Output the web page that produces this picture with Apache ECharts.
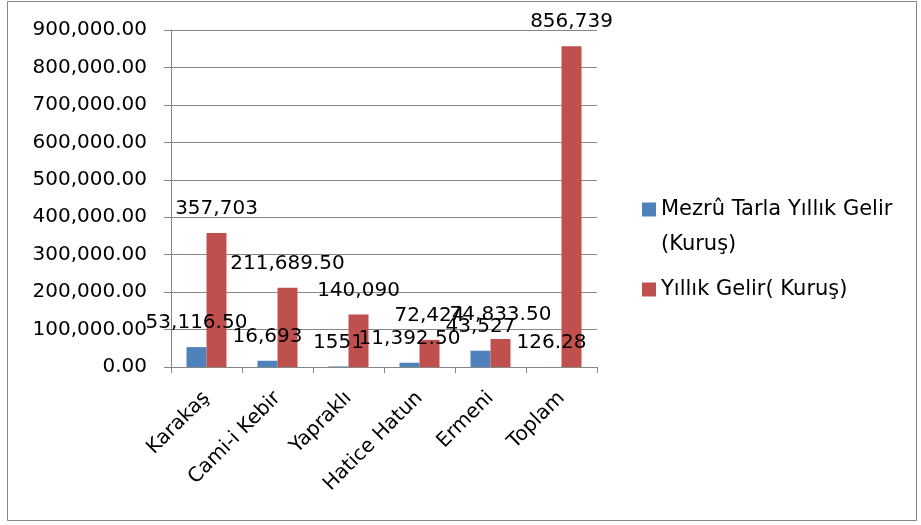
<!DOCTYPE html>
<html>
<head>
<meta charset="utf-8">
<script src="https://cdn.jsdelivr.net/npm/echarts@6/dist/echarts.min.js"></script>
<style>
  html, body { margin: 0; padding: 0; background: #fff; }
  #chart { width: 921px; height: 525px; }
</style>
</head>
<body>
<div id="chart"></div>
<script>
const categories = ['Karakaş', 'Cami-i Kebir', 'Yapraklı', 'Hatice Hatun', 'Ermeni', 'Toplam'];
const mezruValues = [53116.5, 16693, 1551, 11392.5, 43527, 126.28];
const mezruLabels = ['53,116.50', '16,693', '1551', '11,392.50', '43,527', '126.28'];
const gelirValues = [357703, 211689.5, 140090, 72424, 74833.5, 856739];
const gelirLabels = ['357,703', '211,689.50', '140,090', '72,424', '74,833.50', '856,739'];
const yTicks = [0, 100000, 200000, 300000, 400000, 500000, 600000, 700000, 800000, 900000];

const seriesNames = ['Mezrû Tarla Yıllık Gelir (Kuruş)', 'Yıllık Gelir( Kuruş)'];
const font = 'DejaVu Sans';

const chart = echarts.init(document.getElementById('chart'));

const labelStyle = {
  show: true,
  position: 'top',
  distance: 14,
  color: '#000',
  fontFamily: font,
  fontSize: 20
};

// legend text: blank first line so the icon sits on the first real line
const legendText = { fontFamily: font, fontSize: 21, color: '#000', lineHeight: 35 };

chart.setOption({
  animation: false,
  textStyle: { fontFamily: font },
  grid: { left: 171, top: 30, width: 426, height: 337, containLabel: false },
  legend: [
    {
      data: [seriesNames[0]],
      left: 637,
      top: 152,
      itemWidth: 14,
      itemHeight: 14,
      icon: 'rect',
      formatter: n => '\n' + n.replace(' (', '\n('),
      textStyle: legendText
    },
    {
      data: [seriesNames[1]],
      left: 637,
      top: 267,
      itemWidth: 14,
      itemHeight: 14,
      icon: 'rect',
      textStyle: legendText
    }
  ],
  xAxis: {
    type: 'category',
    data: categories,
    axisLine: { lineStyle: { color: '#868686' } },
    axisTick: { show: true, length: 6, lineStyle: { color: '#868686' } },
    axisLabel: { rotate: 45, margin: 28, color: '#000', fontFamily: font, fontSize: 20 }
  },
  yAxis: {
    type: 'value',
    min: yTicks[0],
    max: yTicks[yTicks.length - 1],
    interval: 100000,
    axisLine: { show: true, lineStyle: { color: '#868686' } },
    axisTick: { show: true, length: 7, lineStyle: { color: '#868686' } },
    splitLine: { lineStyle: { color: '#878787' } },
    axisLabel: {
      margin: 24,
      color: '#000',
      fontFamily: font,
      fontSize: 20,
      formatter: v => v.toLocaleString('en-US', { minimumFractionDigits: 2, maximumFractionDigits: 2 })
    }
  },
  series: [
    {
      name: seriesNames[0],
      type: 'bar',
      data: mezruValues,
      barWidth: 20,
      barGap: '0%',
      itemStyle: { color: '#4F81BD' },
      label: Object.assign({}, labelStyle, { formatter: p => mezruLabels[p.dataIndex] })
    },
    {
      name: seriesNames[1],
      type: 'bar',
      data: gelirValues,
      barWidth: 20,
      itemStyle: { color: '#C0504D' },
      label: Object.assign({}, labelStyle, { formatter: p => gelirLabels[p.dataIndex] })
    }
  ],
  graphic: [
    {
      type: 'rect',
      shape: { x: 7.5, y: 1.5, width: 909, height: 519 },
      style: { fill: null, stroke: '#888', lineWidth: 1 },
      silent: true
    }
  ]
});
</script>
</body>
</html>
